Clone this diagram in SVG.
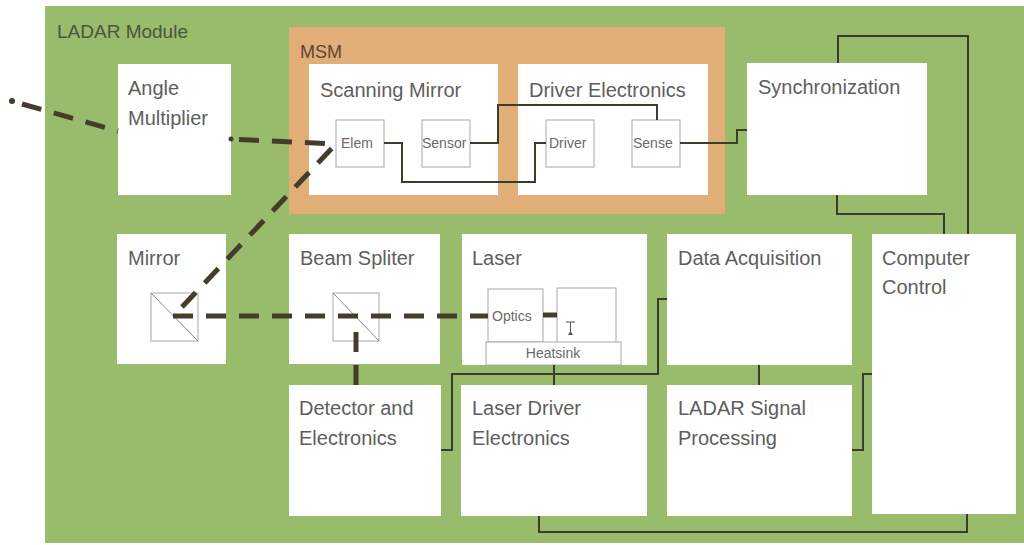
<svg xmlns="http://www.w3.org/2000/svg" width="1024" height="545" viewBox="0 0 1024 545">
<style>
.box{fill:#ffffff;}
.sub{fill:#ffffff;stroke:#a8a8a8;stroke-width:1;}
.lbl{font-family:"Liberation Sans",Arial,sans-serif;font-size:20px;fill:#5e5e5e;}
.sm{font-family:"Liberation Sans",Arial,sans-serif;font-size:14px;fill:#6a6a6a;}
.wire{fill:none;stroke:#3a3d2c;stroke-width:2;}
.beam{fill:none;stroke:#463c2c;stroke-width:5;stroke-dasharray:20 13;}
</style>
<rect width="1024" height="545" fill="#ffffff"/>
<g id="ladar-module">
<rect x="45" y="6" width="979" height="537" fill="#98bb6c"/>
<text x="57" y="38" font-family="Liberation Sans, Arial, sans-serif" font-size="19" fill="#4b5440">LADAR Module</text>
</g>
<g id="msm">
<rect x="289" y="27" width="436" height="187" fill="#e2ae78"/>
<text x="300" y="58" font-family="Liberation Sans, Arial, sans-serif" font-size="18" fill="#5a4632">MSM</text>
</g>
<g id="angle-multiplier">
<rect class="box" x="118" y="64" width="113" height="131"/>
<text class="lbl" x="128" y="95">Angle</text>
<text class="lbl" x="128" y="125">Multiplier</text>
</g>
<g id="scanning-mirror">
<rect class="box" x="309" y="64" width="189" height="131"/>
<text class="lbl" x="320" y="97">Scanning Mirror</text>
<rect class="sub" x="336" y="120" width="48" height="47"/>
<text class="sm" x="341" y="148">Elem</text>
<rect class="sub" x="422" y="120" width="48" height="47"/>
<text class="sm" x="422" y="148">Sensor</text>
</g>
<g id="driver-electronics">
<rect class="box" x="518" y="64" width="190" height="131"/>
<text class="lbl" x="529" y="97">Driver Electronics</text>
<rect class="sub" x="546" y="120" width="48" height="47"/>
<text class="sm" x="549" y="148">Driver</text>
<rect class="sub" x="632" y="120" width="48" height="47"/>
<text class="sm" x="633" y="148">Sense</text>
</g>
<g id="synchronization">
<rect class="box" x="747" y="63" width="180" height="132"/>
<text class="lbl" x="758" y="94">Synchronization</text>
</g>
<g id="mirror">
<rect class="box" x="117" y="234" width="109" height="130"/>
<text class="lbl" x="128" y="265">Mirror</text>
<rect class="sub" x="151" y="293" width="47" height="48"/>
<line x1="151" y1="293" x2="198" y2="341" stroke="#8a8a8a" stroke-width="1"/>
</g>
<g id="beam-spliter">
<rect class="box" x="289" y="234" width="151" height="130"/>
<text class="lbl" x="300" y="265">Beam Spliter</text>
<rect class="sub" x="333" y="293" width="46" height="48"/>
<line x1="333" y1="293" x2="379" y2="341" stroke="#8a8a8a" stroke-width="1"/>
</g>
<g id="laser">
<rect class="box" x="462" y="234" width="185" height="131"/>
<text class="lbl" x="472" y="265">Laser</text>
<rect class="sub" x="488" y="289" width="55" height="53"/>
<text class="sm" x="492" y="321">Optics</text>
<rect class="sub" x="557" y="288" width="59" height="56"/>
<line x1="566" y1="322" x2="575" y2="322" stroke="#555" stroke-width="1"/>
<line x1="570.5" y1="322" x2="570.5" y2="334" stroke="#555" stroke-width="1"/>
<path d="M568,335 L573,335 L570.5,331 Z" fill="#555"/>
<rect class="sub" x="486" y="342" width="135" height="23"/>
<text class="sm" x="553" y="358" text-anchor="middle" font-size="16">Heatsink</text>
</g>
<g id="data-acquisition">
<rect class="box" x="667" y="234" width="185" height="131"/>
<text class="lbl" x="678" y="265">Data Acquisition</text>
</g>
<g id="computer-control">
<rect class="box" x="872" y="234" width="144" height="280"/>
<text class="lbl" x="882" y="265">Computer</text>
<text class="lbl" x="882" y="294">Control</text>
</g>
<g id="detector-electronics">
<rect class="box" x="289" y="385" width="152" height="131"/>
<text class="lbl" x="299" y="415">Detector and</text>
<text class="lbl" x="299" y="445">Electronics</text>
</g>
<g id="laser-driver-electronics">
<rect class="box" x="461" y="385" width="186" height="131"/>
<text class="lbl" x="472" y="415">Laser Driver</text>
<text class="lbl" x="472" y="445">Electronics</text>
</g>
<g id="ladar-signal-processing">
<rect class="box" x="667" y="385" width="185" height="131"/>
<text class="lbl" x="678" y="415">LADAR Signal</text>
<text class="lbl" x="678" y="445">Processing</text>
</g>
<g id="connectors">
<path class="wire" d="M838,63 V36 H968 V234"/>
<path class="wire" d="M837,195 V214 H944 V234"/>
<path class="wire" d="M680,143 H737 V130 H747"/>
<path class="wire" d="M470,143 H498 V105 H657 V120"/>
<path class="wire" d="M384,143 H402 V182 H535 V143 H546"/>
<path class="wire" d="M554,365 V385"/>
<path class="wire" d="M667,299 H658 V374 H452 V450 H441"/>
<path class="wire" d="M759,365 V385"/>
<path class="wire" d="M872,374 H863 V450 H852"/>
<path class="wire" d="M539,516 V532 H967 V514"/>
<circle cx="12" cy="101" r="3" fill="#463c2c"/>
<path class="beam" d="M22,104 L118,131"/>
<circle cx="231" cy="139" r="2.5" fill="#463c2c"/>
<path class="beam" d="M239,139.5 L336,144"/>
<path class="beam" d="M182,307 L335,145"/>
<path class="beam" d="M173,316 L488,316"/>
<path class="beam" d="M543,315 L557,315" stroke-dasharray="none"/>
<path class="beam" d="M356,332 L356,386"/>
</g>
</svg>
